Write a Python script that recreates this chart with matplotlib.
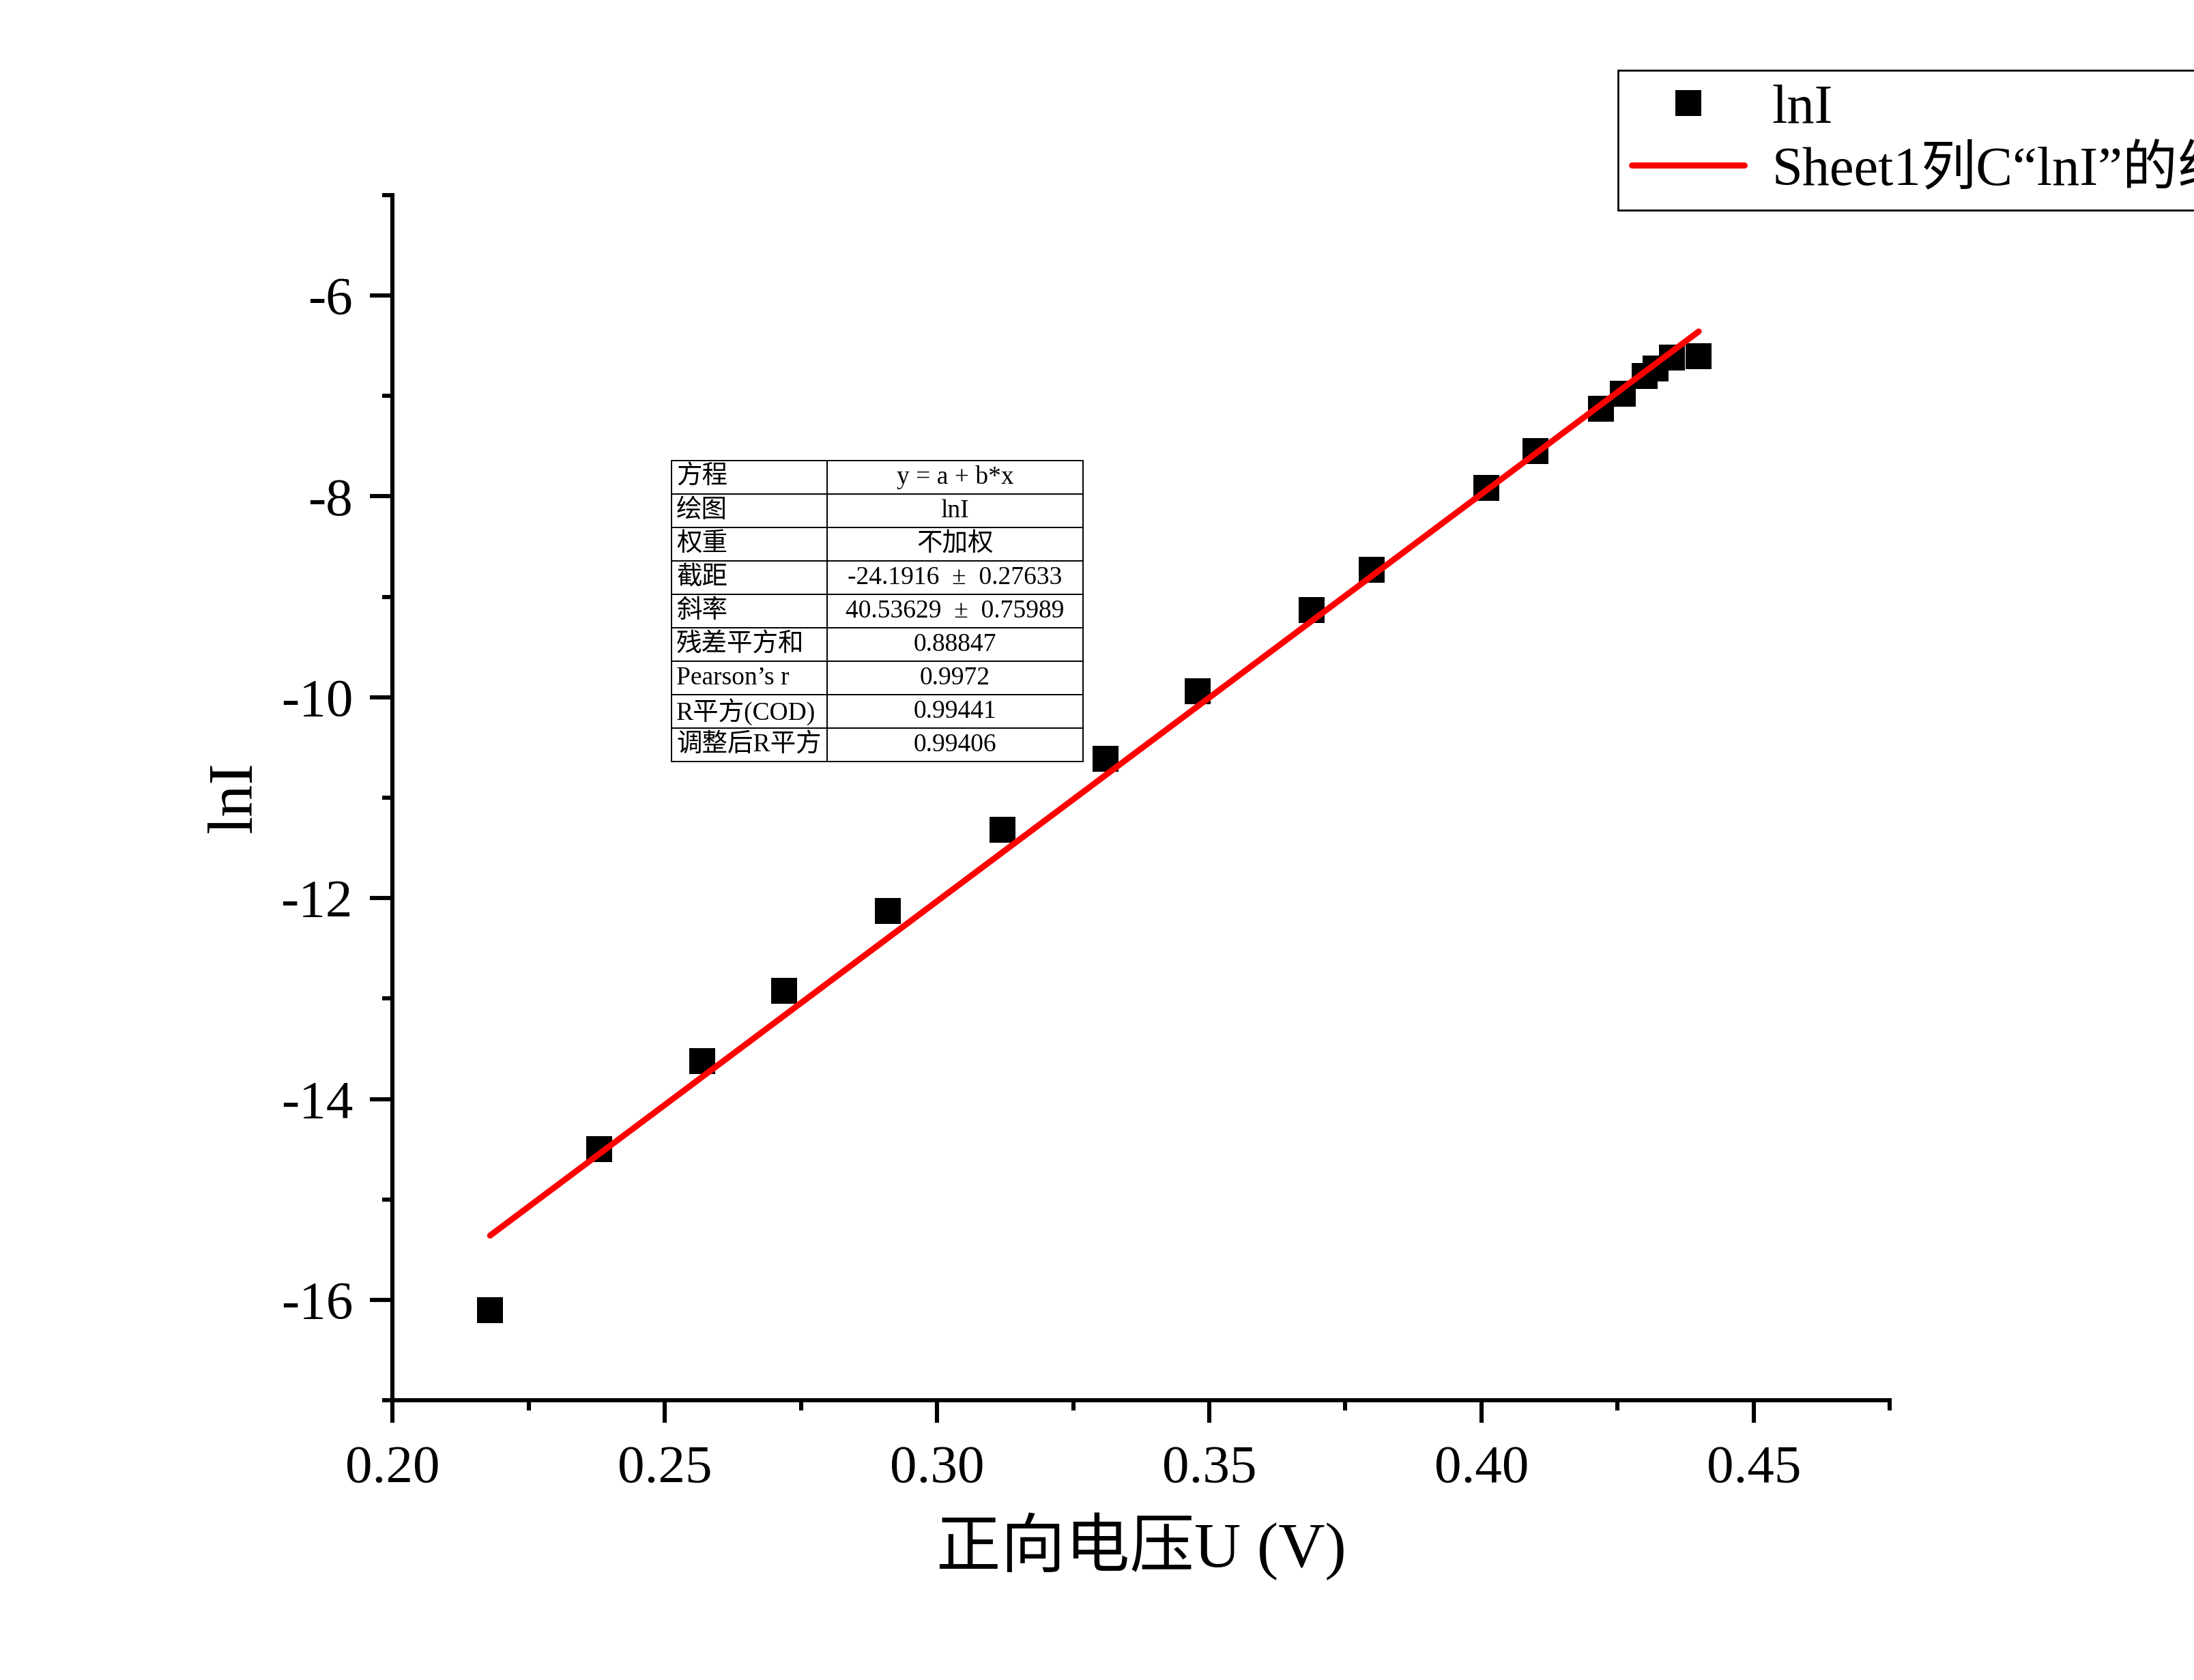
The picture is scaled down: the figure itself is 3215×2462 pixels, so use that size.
import numpy as np
import matplotlib
matplotlib.use("Agg")
import matplotlib.pyplot as plt
from matplotlib.ticker import MultipleLocator

plt.rcParams['font.family'] = ['Liberation Serif', 'Noto Sans CJK SC', 'DejaVu Sans']
plt.rcParams['axes.unicode_minus'] = False

# ---- data ----
voltage = [0.2179, 0.2379, 0.2569, 0.2719, 0.2909, 0.3120, 0.3310, 0.3479, 0.3688,
           0.3798, 0.4009, 0.4099, 0.4219, 0.4259, 0.4300, 0.4320, 0.4350, 0.4399]
ln_current = [-16.10, -14.50, -13.62, -12.92, -12.13, -11.32, -10.61, -9.94, -9.135,
              -8.73, -7.92, -7.55, -7.13, -6.98, -6.80, -6.73, -6.62, -6.605]
fit_intercept = -24.1916
fit_slope = 40.53629

xticks = [0.20, 0.25, 0.30, 0.35, 0.40, 0.45]
xtick_labels = ["0.20", "0.25", "0.30", "0.35", "0.40", "0.45"]
yticks = [-16, -14, -12, -10, -8, -6]
ytick_labels = ["-16", "-14", "-12", "-10", "-8", "-6"]

table_labels = ["方程", "绘图", "权重", "截距", "斜率", "残差平方和",
                "Pearson’s r", "R平方(COD)", "调整后R平方"]
table_values = ["y = a + b*x", "lnI", "不加权", "-24.1916  ±  0.27633",
                "40.53629  ±  0.75989", "0.88847", "0.9972", "0.99441", "0.99406"]

series_label = "lnI"
fit_label = "Sheet1列C“lnI”的线性拟合"

# ---- figure ----
fig = plt.figure(figsize=(16.08, 12.31), dpi=200)
ax = fig.add_axes([0.1789, 0.1664, 0.6822, 0.7176])

fit_x = np.array([min(voltage), max(voltage)])
fit_y = fit_intercept + fit_slope * fit_x

pts, = ax.plot(voltage, ln_current, ls='none', marker='s', ms=13.5, mew=0,
               color='black', zorder=3, label=series_label)
ln, = ax.plot(fit_x, fit_y, color='#ff0000', lw=3.2, solid_capstyle='round',
              zorder=4, label=fit_label)

ax.set_xlim(0.20, 0.475)
ax.set_ylim(-17, -5)
ax.set_xticks(xticks)
ax.set_xticklabels(xtick_labels)
ax.set_yticks(yticks)
ax.set_yticklabels(ytick_labels)
ax.xaxis.set_minor_locator(MultipleLocator(0.025))
ax.yaxis.set_minor_locator(MultipleLocator(1))

for s in ['top', 'right']:
    ax.spines[s].set_visible(False)
for s in ['left', 'bottom']:
    ax.spines[s].set_linewidth(2.2)

ax.tick_params(which='major', direction='out', length=12, width=2.2, labelsize=28.5)
ax.tick_params(which='minor', direction='out', length=5.5, width=2.2)
ax.tick_params(axis='x', which='major', pad=11.5)
ax.tick_params(axis='y', which='major', pad=9)

ax.set_xlabel("正向电压U (V)", fontsize=34, va='center')
ax.xaxis.set_label_coords(0.5, -0.121)
ax.set_ylabel("lnI", fontsize=34, va='center', ha='center')
ax.yaxis.set_label_coords(-0.1046, 0.5)

# ---- fit result table ----
cell_text = [[a, b] for a, b in zip(table_labels, table_values)]
tbl = ax.table(cellText=cell_text, colWidths=[0.377, 0.623], cellLoc='center',
               bbox=[0.1864, 0.5297, 0.2748, 0.2500], zorder=5)
tbl.auto_set_font_size(False)
tbl.set_fontsize(13.5)
for (r, c), cell in tbl.get_celld().items():
    cell.set_linewidth(0.7)
    cell.set_edgecolor('black')
    if c == 0:
        cell.get_text().set_ha('left')
        cell.PAD = 0.03

# ---- legend ----
leg = ax.legend(handles=[pts, ln], loc='upper left',
                bbox_to_anchor=(2371 / 3216, 1 - 103 / 2462),
                bbox_transform=fig.transFigure, borderaxespad=0,
                fontsize=29, frameon=True, fancybox=False, framealpha=1,
                edgecolor='black', handlelength=2.05, handletextpad=0.5,
                borderpad=0.25, labelspacing=0.2, numpoints=1)
leg.get_frame().set_linewidth(1.0)

fig.savefig("out.png", dpi=200)
